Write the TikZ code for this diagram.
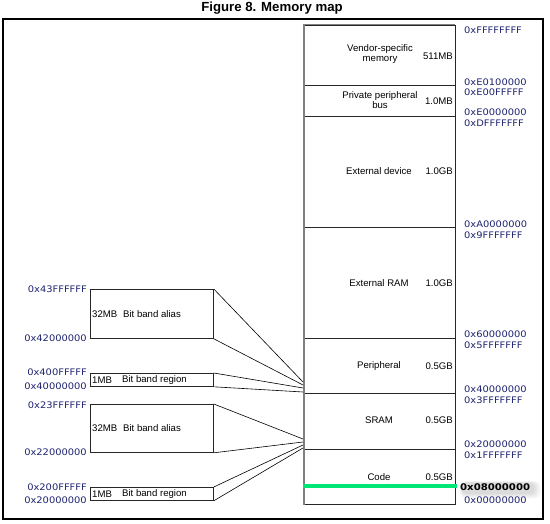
\documentclass[tikz,border=0pt]{standalone}
\usepackage{fontspec}
\setmainfont{Liberation Sans}
\newfontfamily\addrfont[FakeStretch=1.1]{DejaVu Sans}
\definecolor{addrblue}{HTML}{1E2370}
\definecolor{flashgreen}{HTML}{00E676}
\definecolor{colgray}{HTML}{808080}
\begin{document}
\begin{tikzpicture}[x=1pt,y=-1pt,
  addr/.style={font=\addrfont\fontsize{9}{10}\selectfont, text=addrblue, inner sep=0pt},
  lbl/.style={font=\fontsize{9.6}{10.8}\selectfont, inner sep=0pt, align=center},
  size/.style={lbl, anchor=east},
  region/.style={draw=black!85, line width=0.8pt},
  bandbox/.style={draw=black!85, line width=0.8pt, rectangle, inner sep=0pt, anchor=north west},
  fan/.style={draw=black, line width=0.6pt}]
\useasboundingbox (0,0) rectangle (550,524);
\fill[white] (0,0) rectangle (550,524);

% title and outer frame
\node[font=\bfseries\fontsize{13.2}{15}\selectfont, inner sep=0pt] (title) at (272,8.5) {Figure 8. Memory map};
\draw[line width=1.2pt] (3,19) rectangle (543,519);

% memory column, top to bottom
\draw[region] (304,25) rectangle (455,85);
\draw[region] (304,85) rectangle (455,116);
\draw[region] (304,116) rectangle (455,227);
\draw[region] (304,227) rectangle (455,338);
\draw[region] (304,338) rectangle (455,393);
\draw[region] (304,393) rectangle (455,449);
\draw[region] (304,449) rectangle (455,504);
\draw[colgray, line width=2pt] (304,24) -- (304,505);
\draw[colgray, line width=1pt] (304,25) -- (455,25);

% region names and sizes
\node[lbl] (vendor) at (380,54) {Vendor-specific\\memory};
\node[size] (vendorsz) at (453,56) {511MB};
\node[lbl] (ppb) at (380,100) {Private peripheral\\bus};
\node[size] (ppbsz) at (453,101) {1.0MB};
\node[lbl] (extdev) at (379,171) {External device};
\node[size] (extdevsz) at (453,171) {1.0GB};
\node[lbl] (extram) at (379,283) {External RAM};
\node[size] (extramsz) at (453,283) {1.0GB};
\node[lbl] (periph) at (379,366) {Peripheral};
\node[size] (periphsz) at (453,366) {0.5GB};
\node[lbl] (sram) at (379,420) {SRAM};
\node[size] (sramsz) at (453,420) {0.5GB};
\node[lbl] (code) at (379,477) {Code};
\node[size] (codesz) at (453,477) {0.5GB};

% flash start marker
\draw[flashgreen, line width=4pt] (303,486) -- (457,486);

% column addresses
\node[addr, anchor=west] (a1) at (464,30) {0xFFFFFFFF};
\node[addr, anchor=west] (a2) at (464,82) {0xE0100000};
\node[addr, anchor=west] (a3) at (464,92) {0xE00FFFFF};
\node[addr, anchor=west] (a4) at (464,112) {0xE0000000};
\node[addr, anchor=west] (a5) at (464,123) {0xDFFFFFFF};
\node[addr, anchor=west] (a6) at (464,224) {0xA0000000};
\node[addr, anchor=west] (a7) at (464,235) {0x9FFFFFFF};
\node[addr, anchor=west] (a8) at (464,334) {0x60000000};
\node[addr, anchor=west] (a9) at (464,345) {0x5FFFFFFF};
\node[addr, anchor=west] (a10) at (464,389) {0x40000000};
\node[addr, anchor=west] (a11) at (464,400) {0x3FFFFFFF};
\node[addr, anchor=west] (a12) at (464,444) {0x20000000};
\node[addr, anchor=west] (a13) at (464,455) {0x1FFFFFFF};
% soft shadow behind the highlighted flash address
\foreach \g in {1,...,6}
  \fill[black, opacity=0.022, rounded corners=5pt] (462-0.3*\g,483-0.3*\g) rectangle (533+1.3*\g,493+0.9*\g);
\node[addr, anchor=west, font=\addrfont\bfseries\fontsize{9.2}{10}\selectfont, text=black] (a14) at (460,487) {0x08000000};
\node[addr, anchor=west] (a15) at (464,500) {0x00000000};

% bit band boxes
\node[bandbox, minimum width=123pt, minimum height=49pt] (alias1) at (90,289) {};
\node[bandbox, minimum width=123pt, minimum height=13pt] (band1) at (90,373) {};
\node[bandbox, minimum width=123pt, minimum height=48pt] (alias2) at (90,404) {};
\node[bandbox, minimum width=123pt, minimum height=13pt] (band2) at (90,487) {};

\node[lbl, anchor=west] (alias1a) at (92,314) {32MB};
\node[lbl, anchor=west] (alias1b) at (123,314) {Bit band alias};
\node[lbl, anchor=west] (band1a) at (92,380) {1MB};
\node[lbl, anchor=west] (band1b) at (122,380) {Bit band region};
\node[lbl, anchor=west] (alias2a) at (92,428) {32MB};
\node[lbl, anchor=west] (alias2b) at (123,428) {Bit band alias};
\node[lbl, anchor=west] (band2a) at (92,494) {1MB};
\node[lbl, anchor=west] (band2b) at (122,494) {Bit band region};

% bit band addresses
\node[addr, anchor=east] (b1) at (87,289) {0x43FFFFFF};
\node[addr, anchor=east] (b2) at (87,338) {0x42000000};
\node[addr, anchor=east] (b3) at (87,372) {0x400FFFFF};
\node[addr, anchor=east] (b4) at (87,386) {0x40000000};
\node[addr, anchor=east] (b5) at (87,405) {0x23FFFFFF};
\node[addr, anchor=east] (b6) at (87,452) {0x22000000};
\node[addr, anchor=east] (b7) at (87,487) {0x200FFFFF};
\node[addr, anchor=east] (b8) at (87,500) {0x20000000};

% fan lines into the column
\coordinate (p1) at (303,382);
\coordinate (p2) at (303,385);
\coordinate (p3) at (303,388);
\coordinate (p4) at (303,392);
\coordinate (s1) at (303,439);
\coordinate (s2) at (303,442);
\coordinate (s3) at (303,445);
\coordinate (s4) at (303,448);
\draw[fan] (alias1.north east) -- (p1);
\draw[fan] (alias1.south east) -- (p2);
\draw[fan] (band1.north east) -- (p3);
\draw[fan] (band1.south east) -- (p4);
\draw[fan] (alias2.north east) -- (s1);
\draw[fan] (alias2.south east) -- (s2);
\draw[fan] (band2.north east) -- (s3);
\draw[fan] (band2.south east) -- (s4);
\end{tikzpicture}
\end{document}
